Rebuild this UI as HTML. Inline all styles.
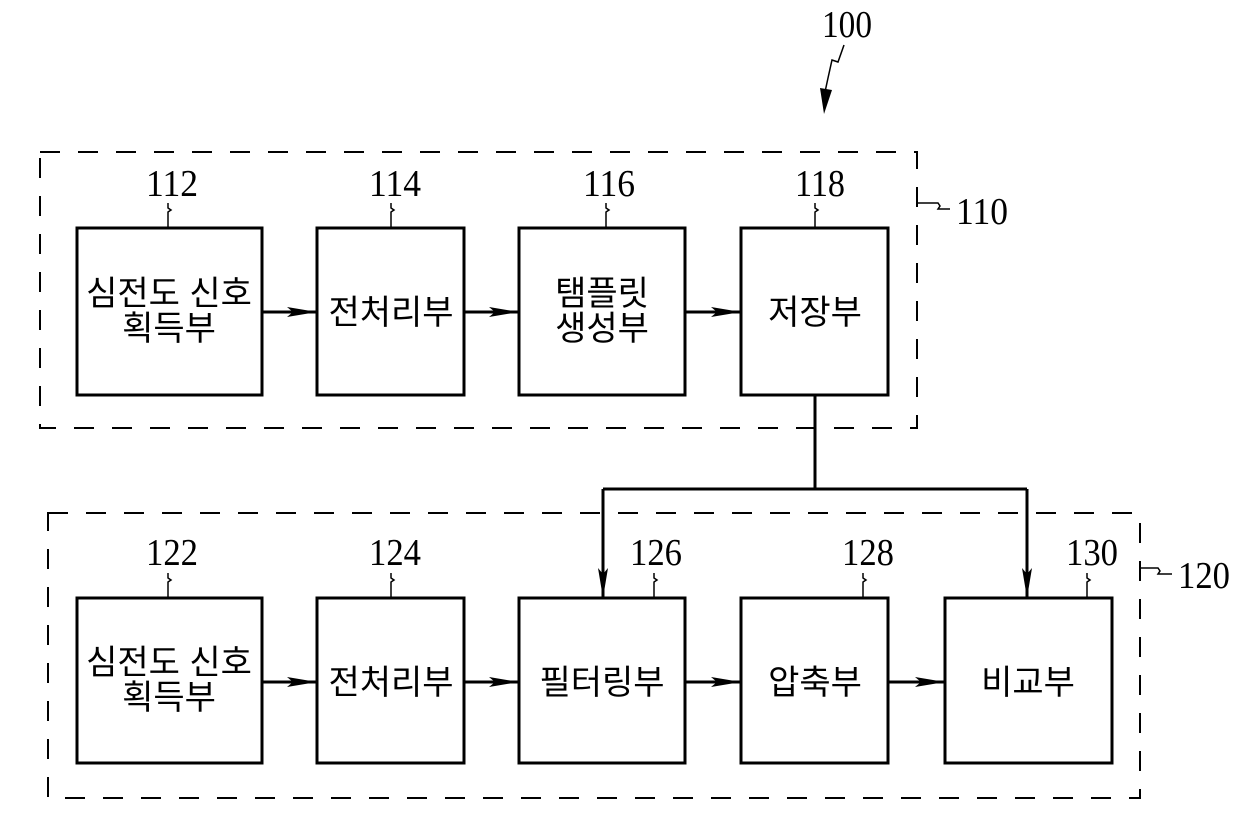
<!DOCTYPE html>
<html><head><meta charset="utf-8"><style>html,body{margin:0;padding:0;background:#fff;}svg{display:block}</style></head>
<body>
<svg width="1240" height="821" viewBox="0 0 1240 821" xmlns="http://www.w3.org/2000/svg">
<defs>
<marker id="a" markerWidth="30" markerHeight="12" refX="30" refY="6" orient="auto" markerUnits="userSpaceOnUse">
<path d="M0,1 L30,6 L0,11 L6,6 Z" fill="#000"/></marker>
</defs>
<g fill="none" stroke="#000" stroke-width="2" stroke-dasharray="20,18">
<rect x="40" y="152" width="877" height="276"/>
<rect x="48" y="513" width="1092" height="285"/>
</g>
<g fill="none" stroke="#000" stroke-width="3">
<rect x="77" y="228" width="185" height="167"/>
<rect x="317" y="228" width="147" height="167"/>
<rect x="519" y="228" width="166" height="167"/>
<rect x="741" y="228" width="147" height="167"/>
<rect x="77" y="598" width="185" height="165"/>
<rect x="317" y="598" width="147" height="165"/>
<rect x="519" y="598" width="166" height="165"/>
<rect x="741" y="598" width="147" height="165"/>
<rect x="945" y="598" width="167" height="165"/>
</g>
<g stroke="#000" stroke-width="3" fill="none">
<line x1="262" y1="312" x2="317" y2="312" marker-end="url(#a)"/>
<line x1="464" y1="312" x2="519" y2="312" marker-end="url(#a)"/>
<line x1="685" y1="312" x2="741" y2="312" marker-end="url(#a)"/>
<line x1="262" y1="682" x2="317" y2="682" marker-end="url(#a)"/>
<line x1="464" y1="682" x2="519" y2="682" marker-end="url(#a)"/>
<line x1="685" y1="682" x2="741" y2="682" marker-end="url(#a)"/>
<line x1="888" y1="682" x2="945" y2="682" marker-end="url(#a)"/>
<polyline points="815,395 815,489"/>
<polyline points="603,489 1027,489"/>
<line x1="603" y1="489" x2="603" y2="598" marker-end="url(#a)"/>
<line x1="1027" y1="489" x2="1027" y2="598" marker-end="url(#a)"/>
</g>
<g stroke="#000" stroke-width="1.5" fill="none">
<path d="M168,228 V212 l3,-2 -3,-2 V203"/>
<path d="M391,228 V212 l3,-2 -3,-2 V203"/>
<path d="M606,228 V212 l3,-2 -3,-2 V203"/>
<path d="M815,228 V212 l3,-2 -3,-2 V203"/>
<path d="M168,598 V582 l3,-2 -3,-2 V573"/>
<path d="M391,598 V582 l3,-2 -3,-2 V573"/>
<path d="M654,598 V582 l3,-2 -3,-2 V573"/>
<path d="M863,598 V582 l3,-2 -3,-2 V573"/>
<path d="M1087,598 V582 l3,-2 -3,-2 V573"/>
<path d="M917,203 H938 l2,3 -2,3 H950" />
<path d="M1140,568 H1158 l2,3 -2,3 H1172" />
<path d="M844,45 L838,62 l-6,-2 -4,18 -3,14"/>
</g>
<path d="M824,114 L820,88 L832,90 Z" fill="#000"/>
<g font-family="Liberation Serif, serif" font-size="38" fill="#000">
<text x="822" y="37" textLength="50" lengthAdjust="spacingAndGlyphs">100</text>
<text x="146" y="196" textLength="52" lengthAdjust="spacingAndGlyphs">112</text>
<text x="369" y="196" textLength="52" lengthAdjust="spacingAndGlyphs">114</text>
<text x="583" y="196" textLength="52" lengthAdjust="spacingAndGlyphs">116</text>
<text x="795" y="196" textLength="50" lengthAdjust="spacingAndGlyphs">118</text>
<text x="956" y="224" textLength="52" lengthAdjust="spacingAndGlyphs">110</text>
<text x="146" y="565" textLength="52" lengthAdjust="spacingAndGlyphs">122</text>
<text x="369" y="565" textLength="52" lengthAdjust="spacingAndGlyphs">124</text>
<text x="630" y="565" textLength="52" lengthAdjust="spacingAndGlyphs">126</text>
<text x="842" y="565" textLength="52" lengthAdjust="spacingAndGlyphs">128</text>
<text x="1066" y="565" textLength="52" lengthAdjust="spacingAndGlyphs">130</text>
<text x="1178" y="588" textLength="52" lengthAdjust="spacingAndGlyphs">120</text>
</g>
<g font-family="Liberation Sans, 'Noto Sans CJK KR', sans-serif" font-size="34" fill="#000" text-anchor="middle">
<text x="169" y="305">심전도 신호</text>
<text x="169" y="340">획득부</text>
<text x="391" y="324">전처리부</text>
<text x="602" y="305">탬플릿</text>
<text x="602" y="340">생성부</text>
<text x="815" y="324">저장부</text>
<text x="169" y="674">심전도 신호</text>
<text x="169" y="709">획득부</text>
<text x="391" y="694">전처리부</text>
<text x="602" y="694">필터링부</text>
<text x="815" y="694">압축부</text>
<text x="1028" y="694">비교부</text>
</g>
</svg>
</body></html>
